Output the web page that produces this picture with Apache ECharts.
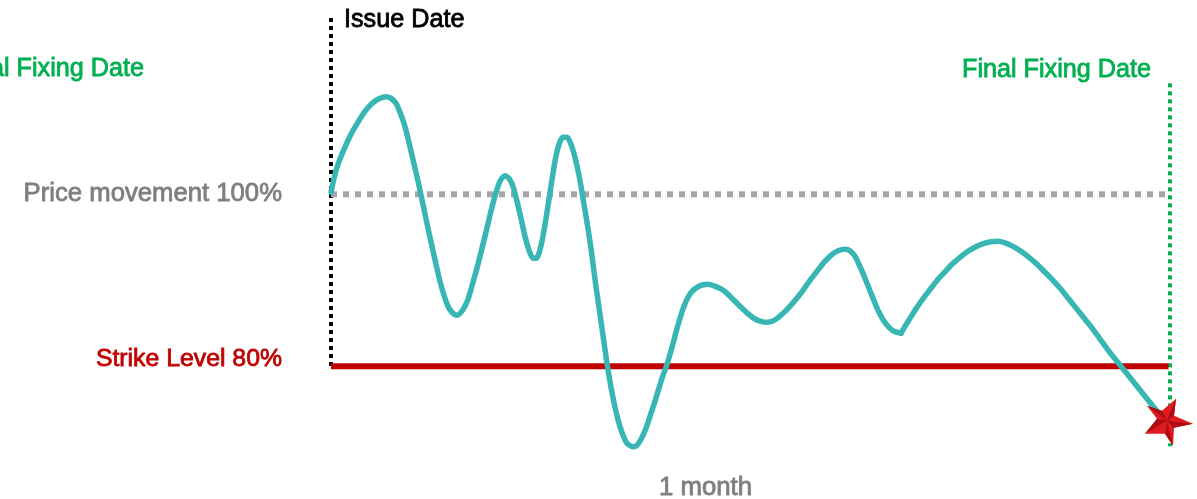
<!DOCTYPE html>
<html><head><meta charset="utf-8">
<style>html,body{margin:0;padding:0;background:#fff}#c{width:1197px;height:499px}</style>
<script src="https://cdn.jsdelivr.net/npm/echarts@6/dist/echarts.min.js"></script>
</head><body><div id="c"></div>
<script>
const elapsedA=[0,3,7,13,20,27,34,41,48,55,60,65,69,73,77,81,85,89,93,97,101,105,109,113,117,121,126,130,134,138,142,146,150,154,158,162,166,170,174,178,182,186,190,194,198,202,205,208,212,216,220,224,228,232,236,240,244,248,252,256,260,264,268,272,276,280,284,288,292,296,302,306,310,315,319,323,327,331,336,341,345,349,353,357,361,366,372,377,383,389,395,402,409,416,423,430,437,444,451,458,465,472,479,486,493,500,507,514,519,524,528,532,536,540,544,548,553,558,563,570];
const priceA=[100.23,101.86,103.49,105.23,106.98,108.40,109.65,110.55,111.10,111.34,111.16,110.58,109.53,108.26,106.51,104.53,102.56,100.47,98.26,96.05,93.95,91.86,89.88,88.26,86.98,86.28,85.93,86.28,86.98,88.14,89.77,91.40,93.26,95.12,97.09,98.95,100.58,101.74,102.15,101.86,100.93,99.19,97.21,95.12,93.49,92.56,92.56,93.14,95.12,97.91,100.93,103.84,105.81,106.63,106.63,105.81,104.30,102.21,99.53,96.74,93.72,90.12,86.86,83.60,80.35,77.56,75.23,73.37,71.98,71.05,70.64,70.81,71.51,72.79,74.19,75.58,77.09,78.60,80.23,82.21,83.95,85.58,86.98,88.02,88.72,89.19,89.48,89.53,89.36,89.07,88.60,87.79,86.98,86.22,85.58,85.23,85.12,85.41,86.05,86.86,87.79,88.84,90.00,91.05,92.09,92.91,93.43,93.60,93.43,92.79,91.86,90.81,89.65,88.49,87.33,86.28,85.23,84.53,84.07,83.84];
const elapsedB=[570,574,579,586,593,600,607,614,621,629,637,645,653,660,667,674,682,690,698,706,714,722,730,738,746,754,762,770,778,786,794,802,810,818,826,837];
const priceB=[83.84,84.65,85.58,86.86,88.02,89.07,90.12,90.99,91.86,92.67,93.37,93.90,94.30,94.48,94.53,94.36,93.95,93.37,92.67,91.86,90.93,90.00,88.95,87.79,86.63,85.47,84.30,83.02,81.74,80.58,79.42,78.26,77.09,75.93,74.77,73.14];
const monthEnd=837.5, axisEnd=840, issueX=0, finalX=839;
const priceLevel=100, strikeLevel=80;
const issueSpan=[120.5,80], finalSpan=[112.9,70.7];
const finalFixing=[838,73.5];
const labels={issue:'Issue Date',fin:'Final Fixing Date',price:'Price movement 100%',strike:'Strike Level 80%',month:'1 month'};

const starOutline='path://M10 15L25 20L39 8L37 25L56 33L37 37L36 55L28 43L8 43L20 28Z';
const starFacets='path://M10 15L25 20L30 30ZM39 8L37 25L30 30ZM56 33L37 37L30 30ZM36 55L28 43L30 30ZM8 43L20 28L30 30Z';
const font='"Liberation Sans",Arial,sans-serif';
const text=(t,x,y,align,color,size)=>({type:'text',x,y,style:{text:t,fill:color,stroke:color,lineWidth:0.8,font:size+'px '+font,textAlign:align,textVerticalAlign:'middle'},z:20});

const chart=echarts.init(document.getElementById('c'),null,{renderer:'canvas'});
const lineS=(data,color,width,dash,z)=>({type:'line',data,symbol:'none',silent:true,z,clip:false,
  lineStyle:{color,width,type:dash||'solid',cap:'butt'}});
const curve=(xs,ys)=>({type:'line',data:xs.map((e,i)=>[e,ys[i]]),symbol:'none',smooth:0.25,silent:true,z:5,clip:false,
  lineStyle:{color:'#38b6b4',width:5.5,cap:'round',join:'round'}});
chart.setOption({
  animation:false,
  grid:{left:331,right:26,top:13.7,bottom:46.7},
  xAxis:{type:'value',min:0,max:axisEnd,show:false},
  yAxis:{type:'value',min:70,max:121,show:false},
  series:[
    lineS(issueSpan.map(v=>[issueX,v]),'#000000',4,[4,4],2),
    lineS(finalSpan.map(v=>[finalX,v]),'#00b050',4,[4,4],2),
    lineS([[0,priceLevel],[monthEnd,priceLevel]],'#a6a6a6',6,[6,6],3),
    lineS([[0,strikeLevel],[monthEnd,strikeLevel]],'#c00000',6,null,4),
    curve(elapsedA,priceA),
    curve(elapsedB,priceB),
    {type:'scatter',data:[finalFixing],symbol:starOutline,symbolSize:[48,47],symbolKeepAspect:false,silent:true,z:6,
      itemStyle:{color:'#e01a1e',opacity:1}},
    {type:'scatter',data:[finalFixing],symbol:starFacets,symbolSize:[48,47],symbolKeepAspect:false,silent:true,z:7,
      itemStyle:{color:'#ab0f14',opacity:1}}
  ],
  graphic:[
    text(labels.issue,344,20,'left','#000000',25.2),
    text(labels.fin,144,69,'right','#00b050',25.2),
    text(labels.fin,1151,70,'right','#00b050',25.2),
    text(labels.price,282,194,'right','#7f7f7f',25.7),
    text(labels.strike,282,359,'right','#c00000',24.8),
    text(labels.month,705.5,488,'center','#7f7f7f',25.8)
  ]
});
</script></body></html>
